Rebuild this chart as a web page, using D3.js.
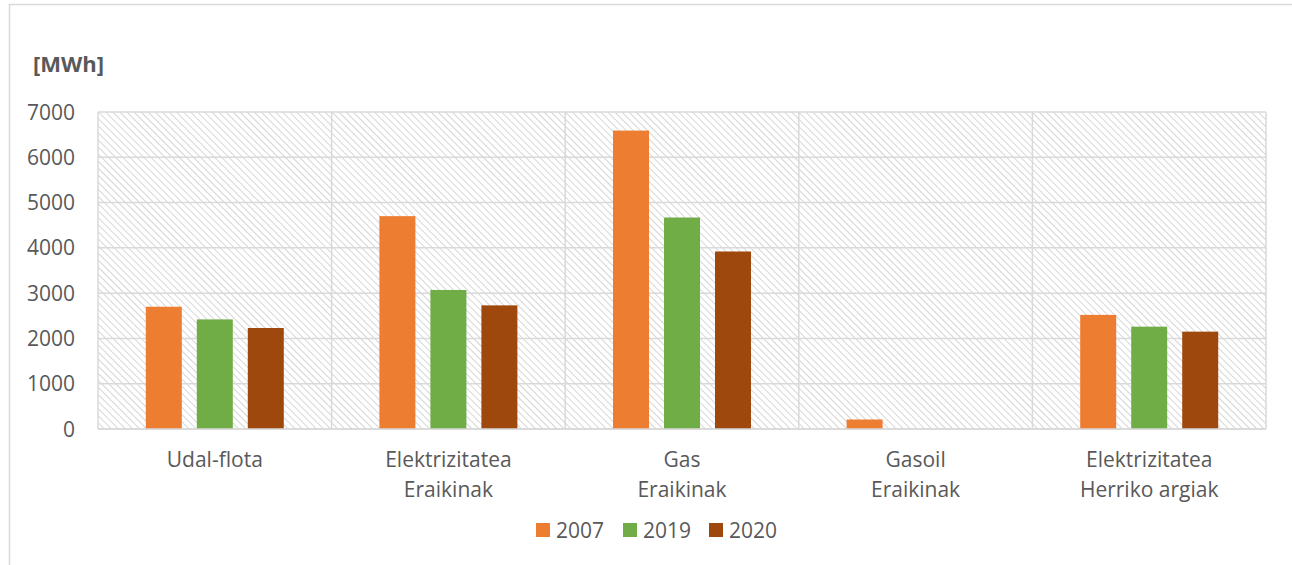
<!DOCTYPE html>
<html>
<head>
<meta charset="utf-8">
<script src="https://cdn.jsdelivr.net/npm/d3@7"></script>
<style>
  html, body { margin: 0; padding: 0; background: #fff; }
  svg { display: block; }
  text { font-family: "Open Sans", "Liberation Sans", sans-serif; fill: #595959; }
</style>
</head>
<body>
<svg id="chart" width="1292" height="565"></svg>
<script>
const categories = [
  ["Udal-flota"],
  ["Elektrizitatea", "Eraikinak"],
  ["Gas", "Eraikinak"],
  ["Gasoil", "Eraikinak"],
  ["Elektrizitatea", "Herriko argiak"]
];
const seriesNames = ["2007", "2019", "2020"];
const values2007 = [2700, 4700, 6590, 210, 2520];
const values2019 = [2420, 3070, 4670, 0, 2260];
const values2020 = [2230, 2730, 3920, 0, 2150];
const colors = ["#ED7D31", "#70AD47", "#9E480E"];
const yTicks = [0, 1000, 2000, 3000, 4000, 5000, 6000, 7000];
const unitLabel = "[MWh]";

const seriesValues = [values2007, values2019, values2020];

const svg = d3.select("#chart");
const margin = { left: 98, right: 1266, top: 112, bottom: 429 };

// outer chart border
svg.append("rect")
  .attr("x", 9.5).attr("y", 4.5).attr("width", 1300).attr("height", 600)
  .attr("fill", "none").attr("stroke", "#d9d9d9").attr("stroke-width", 1.5);

// hatch pattern (wide downward diagonal)
const defs = svg.append("defs");
const pat = defs.append("pattern")
  .attr("id", "hatch").attr("patternUnits", "userSpaceOnUse")
  .attr("width", 5).attr("height", 5)
  .attr("patternTransform", "rotate(-45)");
pat.append("rect").attr("width", 5).attr("height", 5).attr("fill", "#ffffff");
pat.append("line").attr("x1", 0).attr("y1", 0).attr("x2", 0).attr("y2", 5)
  .attr("stroke", "#cfcfcf").attr("stroke-width", 1.7);

const x = d3.scaleBand()
  .domain(d3.range(categories.length))
  .range([margin.left, margin.right]);
const y = d3.scaleLinear().domain([0, 7000]).range([margin.bottom, margin.top]);

// plot background
svg.append("rect")
  .attr("x", margin.left).attr("y", margin.top)
  .attr("width", margin.right - margin.left).attr("height", margin.bottom - margin.top)
  .attr("fill", "url(#hatch)");

// horizontal gridlines
svg.append("g").selectAll("line").data(yTicks).join("line")
  .attr("x1", margin.left).attr("x2", margin.right)
  .attr("y1", d => y(d)).attr("y2", d => y(d))
  .attr("stroke", "#d9d9d9").attr("stroke-width", 1.5);

// vertical gridlines at category boundaries
const vb = d3.range(categories.length + 1).map(i => margin.left + i * x.step());
svg.append("g").selectAll("line").data(vb).join("line")
  .attr("x1", d => d).attr("x2", d => d)
  .attr("y1", margin.top).attr("y2", margin.bottom)
  .attr("stroke", "#d9d9d9").attr("stroke-width", 1.5);

// bars
const barW = 36, gap = 15;
const inner = d3.scaleBand().domain(seriesNames).range([0, 3 * barW + 2 * gap]).paddingInner(gap / (barW + gap));
const groupOffset = (x.bandwidth() - (3 * barW + 2 * gap)) / 2;
seriesNames.forEach((s, si) => {
  svg.append("g").selectAll("rect").data(seriesValues[si]).join("rect")
    .attr("x", (d, i) => x(i) + groupOffset + inner(s))
    .attr("width", inner.bandwidth())
    .attr("y", d => y(d))
    .attr("height", d => y(0) - y(d))
    .attr("fill", colors[si]);
});

// bottom axis line
svg.append("line")
  .attr("x1", margin.left).attr("x2", margin.right)
  .attr("y1", y(0)).attr("y2", y(0))
  .attr("stroke", "#d9d9d9").attr("stroke-width", 1.5);

// y tick labels
svg.append("g").selectAll("text").data(yTicks).join("text")
  .attr("x", 75).attr("y", d => y(d))
  .attr("dy", "0.36em")
  .attr("text-anchor", "end")
  .attr("font-size", 21)
  .text(d => d);

// x category labels
categories.forEach((lines, i) => {
  const t = svg.append("text")
    .attr("x", x(i) + x.bandwidth() / 2)
    .attr("y", 467)
    .attr("text-anchor", "middle")
    .attr("font-size", 21);
  lines.forEach((ln, j) => {
    t.append("tspan").attr("x", x(i) + x.bandwidth() / 2).attr("dy", j === 0 ? 0 : 30).text(ln);
  });
});

// unit label
svg.append("text")
  .attr("x", 33).attr("y", 72)
  .attr("font-size", 22).attr("font-weight", "bold")
  .text(unitLabel);

// legend
const legendX = [536, 623, 709];
seriesNames.forEach((s, i) => {
  svg.append("rect").attr("x", legendX[i]).attr("y", 523).attr("width", 14).attr("height", 14).attr("fill", colors[i]);
  svg.append("text").attr("x", legendX[i] + 20).attr("y", 530).attr("dy", "0.36em")
    .attr("font-size", 21).text(s);
});
</script>
</body>
</html>
